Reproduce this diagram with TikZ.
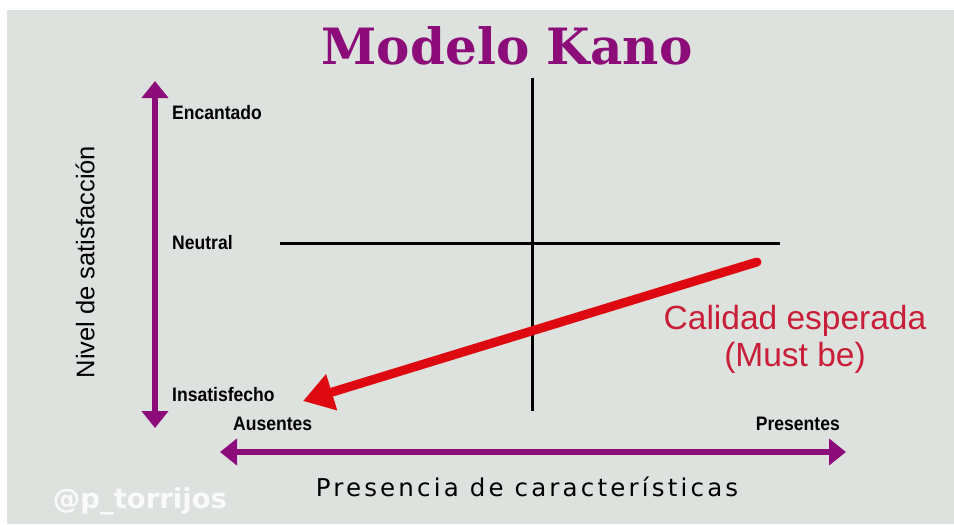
\documentclass[tikz,border=0pt]{standalone}
\usepackage{fontspec}
\setmainfont{Liberation Sans}
\newfontfamily\titlefont{DejaVu Serif}
\newfontfamily\condfont[FakeStretch=0.9]{Liberation Sans}
\newfontfamily\widefont[LetterSpace=13]{DejaVu Sans}
\newfontfamily\markfont{DejaVu Sans}
\usetikzlibrary{arrows.meta}
\definecolor{kanopurple}{RGB}{140,12,122}
\definecolor{kanobg}{RGB}{222,226,222}
\definecolor{kanored}{RGB}{222,8,16}
\definecolor{notered}{RGB}{200,30,55}
\begin{document}
\begin{tikzpicture}[x=1pt, y=-1pt,
    level/.style={anchor=west, inner sep=0pt, font=\condfont\bfseries\fontsize{19.5}{19.5}\selectfont},
    axisarrow/.style={kanopurple, line width=6pt, {Triangle[width=26pt,length=17pt]}-{Triangle[width=26pt,length=17pt]}},
    quadrant/.style={black, line width=3pt}]
    \useasboundingbox (0,0) rectangle (954,525);
    \fill[white] (0,0) rectangle (954,525);
    \fill[kanobg] (7,10) rectangle (954,524);
    % title
    \node[kanopurple, font=\titlefont\bfseries\fontsize{50}{50}\selectfont] (title) at (507,46) {Modelo Kano};
    % satisfaction axis
    \coordinate (top) at (155,81);
    \coordinate (bottom) at (155,428);
    \draw[axisarrow] (bottom) -- (top);
    \node[level] (enc) at (172,113) {Encantado};
    \node[level] (neu) at (172,243) {Neutral};
    \node[level] (ins) at (172,395) {Insatisfecho};
    \node[rotate=90, font=\fontsize{25.5}{25.5}\selectfont] (nivel) at (85,262) {Nivel de satisfacción};
    % quadrants
    \coordinate (hl) at (280,243);
    \coordinate (hr) at (780,243);
    \coordinate (vt) at (532,78);
    \coordinate (vb) at (532,411);
    \draw[quadrant] (hl) -- (hr);
    \draw[quadrant] (vt) -- (vb);
    % must be
    \coordinate (mstart) at (757,262);
    \coordinate (mend) at (303,401);
    \draw[kanored, line width=9pt, line cap=round, -{Triangle[width=36pt,length=30pt]}] (mstart) -- (mend);
    \node[notered, align=center, font=\fontsize{33.5}{37}\selectfont] (must) at (795,339) {Calidad esperada\\(Must be)};
    % presence axis
    \node[level] (aus) at (233,424) {Ausentes};
    \node[level, anchor=east] (pre) at (840,424) {Presentes};
    \coordinate (left) at (220,452);
    \coordinate (right) at (846,452);
    \draw[axisarrow] (left) -- (right);
    \node[font=\widefont\fontsize{24.5}{24.5}\selectfont] (pres) at (527,487) {Presencia de características};
    \node[white, opacity=0.85, font=\markfont\bfseries\fontsize{27.5}{27.5}\selectfont] (mark) at (140,501) {@p\_torrijos};
\end{tikzpicture}
\end{document}
